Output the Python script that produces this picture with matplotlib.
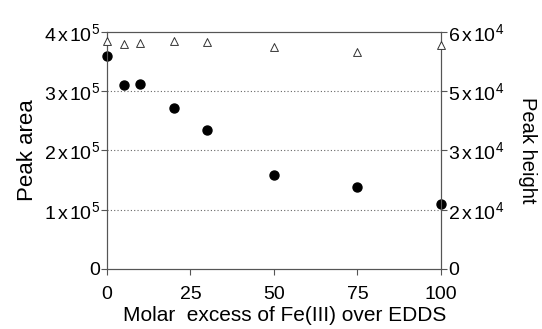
import matplotlib
matplotlib.use("Agg")
import matplotlib.pyplot as plt

# Data
molar_excess = [0, 5, 10, 20, 30, 50, 75, 100]
peak_area = [3.6e5, 3.10e5, 3.13e5, 2.71e5, 2.35e5, 1.59e5, 1.38e5, 1.09e5]
peak_height = [5.77e4, 5.70e4, 5.71e4, 5.77e4, 5.75e4, 5.62e4, 5.50e4, 5.66e4]

x_ticks = [0, 25, 50, 75, 100]
left_ticks = [0, 1e5, 2e5, 3e5, 4e5]
left_labels = ["0", "1 x 10^5", "2 x 10^5", "3 x 10^5", "4 x 10^5"]
right_ticks = [0, 1.5e4, 3e4, 4.5e4, 6e4]
right_labels = ["0", "2 x 10^4", "3 x 10^4", "5 x 10^4", "6 x 10^4"]


def sci(label):
    # "4 x 10^5" -> mathtext with narrow gaps round the x
    if "^" not in label:
        return label
    body = label.replace(" x ", r"\hspace{0.12}x\hspace{0.12}")
    return r"$\mathregular{" + body + "}$"


plt.rcParams['font.family'] = ['Liberation Sans', 'DejaVu Sans']
plt.rcParams['mathtext.fontset'] = 'custom'
plt.rcParams['mathtext.rm'] = 'Liberation Sans'

axis_color = '#555555'

fig = plt.figure(figsize=(5.42, 3.29), dpi=100)
ax = fig.add_axes([0.1974, 0.1824, 0.6162, 0.7204])
ax2 = ax.twinx()

ax.scatter(molar_excess, peak_area, s=42, color='black', zorder=3, clip_on=False)
ax2.scatter(molar_excess, peak_height, s=32, marker='^', facecolor='white',
            edgecolor='#333333', linewidth=0.7, zorder=3, clip_on=False)

ax.set_xlim(0, 100)
ax.set_ylim(0, 4e5)
ax2.set_ylim(0, 6e4)

ax.set_xticks(x_ticks)
ax.set_yticks(left_ticks)
ax.set_yticklabels([sci(t) for t in left_labels])
ax2.set_yticks(right_ticks)
ax2.set_yticklabels([sci(t) for t in right_labels])

for y in left_ticks[1:4]:
    ax.axhline(y, color='#666666', linestyle=(0, (1, 2)), linewidth=0.8, zorder=1)

for a in (ax, ax2):
    for s in a.spines.values():
        s.set_color(axis_color)
        s.set_linewidth(0.8)
    a.tick_params(direction='out', length=4, width=0.8, color=axis_color,
                  labelsize=14, pad=1)
ax.tick_params(axis='x', pad=8)

ax.set_xlabel("Molar  excess of Fe(III) over EDDS", fontsize=15)
ax.xaxis.set_label_coords(0.533, -0.155)
ax.set_ylabel("Peak area", fontsize=16, labelpad=4)
ax2.set_ylabel("Peak height", fontsize=14.5, rotation=270, labelpad=24)

fig.savefig("out.png", dpi=100)
